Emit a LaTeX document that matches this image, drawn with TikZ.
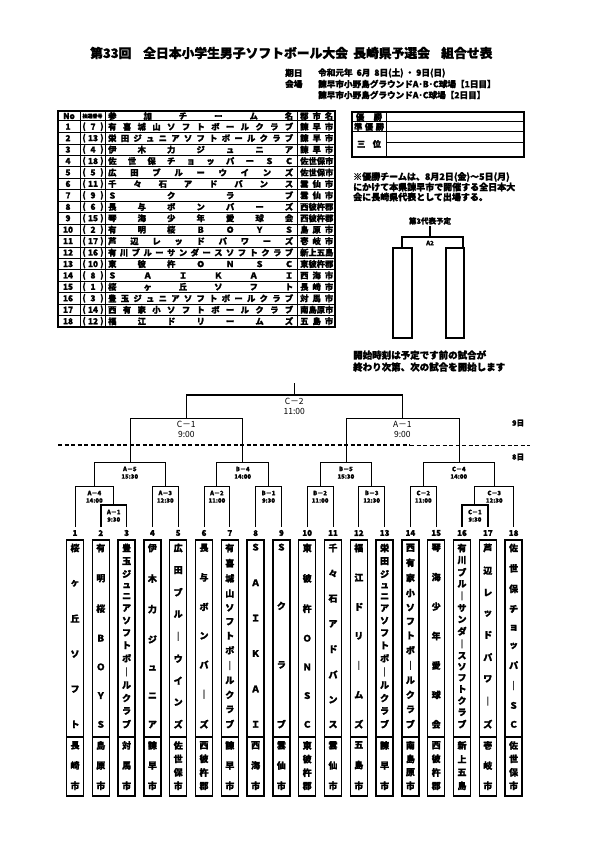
\documentclass[tikz,border=0pt]{standalone}
\usepackage{fontspec}
\setmainfont{Noto Sans CJK JP}[BoldFeatures={FakeBold=1.5}]
\def\hspA#1#2{#1\ifx\relax#2\else\hfill\expandafter\hspA\expandafter#2\fi}
\def\vspA#1#2{\hbox to 14pt{\hss#1\hss}\ifx\relax#2\else\vfill\expandafter\vspA\expandafter#2\fi}
\newcommand\hspread[2]{\hbox to #1{\expandafter\hspA#2\relax}}
\newcommand\vspread[2]{\vbox to #1{\offinterlineskip\expandafter\vspA#2\relax}}
\newcommand\bk[6][br]{\draw[#1] (#2,#5) -- (#2,#4) -- (#3,#4) -- (#3,#6);}
\newcommand\ml[4]{\node[lab] at (#1,#2+7) {#3}; \node[lab] at (#1,#2+14.5) {#4};}
\newcommand\mlb[4]{\node[labbig] at (#1,#2+6.5) {#3}; \node[labbig] at (#1,#2+16.5) {#4};}
\begin{document}
\begin{tikzpicture}[x=1pt,y=-1pt,
  br/.style={line width=1pt},
  brthin/.style={line width=0.6pt},
  brthick/.style={line width=1.5pt},
  lab/.style={font=\fontsize{6}{6}\selectfont\bfseries, inner sep=0},
  labbig/.style={font=\fontsize{8.5}{9}\selectfont, inner sep=0},
  tt/.style={font=\fontsize{8.3}{9}\selectfont\bfseries, inner sep=0},
  vt/.style={font=\fontsize{9}{9}\selectfont\bfseries, inner sep=0},
  info/.style={font=\fontsize{8.6}{9}\selectfont\bfseries, inner sep=0, anchor=west},
  note/.style={font=\fontsize{9}{10}\selectfont\bfseries, inner sep=0, anchor=west},
  ttl/.style={font=\fontsize{12.8}{13}\selectfont\bfseries, inner sep=0, anchor=west},
  numlab/.style={font=\fontsize{8}{8}\selectfont\bfseries, inner sep=0},
  namebox/.style={line width=1.4pt}]
\useasboundingbox (0,0) rectangle (595,842);
\fill[white] (0,0) rectangle (595,842);

% ---------- title ----------
\node[ttl] (t1) at (90,53) {第33回};
\node[ttl] (t2) at (143,53) {全日本小学生男子ソフトボール大会};
\node[ttl] (t3) at (353,53) {長崎県予選会};
\node[ttl] (t4) at (441,53) {組合せ表};
\node[info] (i1) at (285,73) {期日};
\node[info] (i2) at (318,73) {令和元年\ \ 6月\ \ 8日(土)\ ・\ 9日(日)};
\node[info] (i3) at (285,84) {会場};
\node[info] (i4) at (318,84) {諫早市小野島グラウンドA･B･C球場【1日目】};
\node[info] (i5) at (318,95) {諫早市小野島グラウンドA･C球場【2日目】};

% ---------- participant table ----------
\draw[line width=1.5pt] (58,111) rectangle (335,327);
\foreach \k in {1,...,17} \draw[line width=0.6pt] (58,{121+\k*11.44}) -- (335,{121+\k*11.44});
\draw[line width=1pt] (58,121) -- (335,121);
\foreach \vx in {80,105,297} \draw[line width=0.8pt] (\vx,111) -- (\vx,327);
\node[tt] (hno) at (69,116) {No};
\node[font=\fontsize{5}{5}\selectfont\bfseries, inner sep=0] (hch) at (92.5,116) {抽選番号};
\node[tt,anchor=west] (hnm) at (108,116) {\hspread{185pt}{参加チーム名}};
\node[tt,anchor=west] (hct) at (300,116) {\hspread{33pt}{郡市名}};
\foreach \k/\d/\nm/\ct in {
 1/7/有喜城山ソフトボールクラブ/諫早市,
 2/13/栄田ジュニアソフトボールクラブ/諫早市,
 3/4/伊木力ジュニア/諫早市,
 4/18/佐世保チョッパーＳＣ/佐世保市,
 5/5/広田ブルーウインズ/佐世保市,
 6/11/千々石アドバンス/雲仙市,
 7/9/Ｓクラブ/雲仙市,
 8/6/長与ボンバーズ/西彼杵郡,
 9/15/琴海少年愛球会/西彼杵郡,
 10/2/有明桜ＢＯＹＳ/島原市,
 11/17/芦辺レッドパワーズ/壱岐市,
 12/16/有川ブルーサンダースソフトクラブ/新上五島,
 13/10/東彼杵ＯＮＳＣ/東彼杵郡,
 14/8/ＳＡＩＫＡＩ/西海市,
 15/1/桜ヶ丘ソフト/長崎市,
 16/3/豊玉ジュニアソフトボールクラブ/対馬市,
 17/14/西有家小ソフトボールクラブ/南島原市,
 18/12/福江ドリームズ/五島市}{
 \pgfmathsetmacro\yy{121+(\k-0.5)*11.44}
 \node[tt] (rn\k) at (68,\yy) {\k};
 \node[tt] (rpa\k) at (84,\yy) {(};
 \node[tt] (rd\k) at (93,\yy) {\d};
 \node[tt] (rpb\k) at (102,\yy) {)};
 \node[tt,anchor=west] (rt\k) at (108,\yy) {\hspread{185pt}{\nm}};
 \node[tt,anchor=west] (rc\k) at (300,\yy) {\hspread{33pt}{\ct}};
}

% ---------- results box ----------
\draw[line width=1.5pt] (352,112) rectangle (524,157);
\draw[line width=1pt] (352,122) -- (524,122);
\draw[line width=1pt] (352,131.5) -- (524,131.5);
\draw[line width=1pt] (386,143) -- (524,143);
\draw[line width=1pt] (386,112) -- (386,157);
\node[tt] (w1) at (369,117) {\hspread{26pt}{優勝}};
\node[tt] (w2) at (369,126.8) {\hspread{30pt}{準優勝}};
\node[tt] (w3) at (369,144) {\hspread{24pt}{三位}};

% ---------- notes ----------
\node[note] (n1) at (353,177) {※優勝チームは、8月2日(金)～5日(月)};
\node[note] (n2) at (353,187) {にかけて本県諫早市で開催する全日本大};
\node[note] (n3) at (353,197) {会に長崎県代表として出場する。};

% ---------- third representative mini bracket ----------
\node[font=\fontsize{7.5}{8}\selectfont\bfseries, inner sep=0] (r3) at (430,221) {第3代表予定};
\draw[line width=1.2pt] (430,226) -- (430,237);
\draw[line width=1.2pt] (402,248) -- (402,237) -- (463,237) -- (463,248);
\node[lab] (a2) at (430,243) {A2};
\draw[line width=1.3pt] (393,248) rectangle (412,338);
\draw[line width=1.3pt] (446,248) rectangle (464,338);
\node[font=\fontsize{9.5}{10}\selectfont\bfseries, inner sep=0, anchor=west] (n4) at (353,355) {開始時刻は予定です前の試合が};
\node[font=\fontsize{9.5}{10}\selectfont\bfseries, inner sep=0, anchor=west] (n5) at (353,367) {終わり次第、次の試合を開始します};

% ---------- day separator ----------
\draw[line width=1.4pt, dash pattern=on 4pt off 2.5pt] (58,445) -- (410,445);
\draw[line width=0.8pt, dash pattern=on 4pt off 2.5pt] (410,445) -- (530,445);
\node[font=\fontsize{7.5}{8}\selectfont\bfseries, inner sep=0] (d9) at (518,423) {9日};
\node[font=\fontsize{7.5}{8}\selectfont\bfseries, inner sep=0] (d8) at (518,457) {8日};

% ---------- bracket ----------
\draw[brthick] (294.3,395) -- (294.3,383);
\bk[brthick]{186.3}{402.3}{395}{418}{418}
\mlb{294.3}{395}{C－2}{11:00}
\bk[brthin]{129.8}{242.7}{418}{462}{462}
\mlb{186.3}{418}{C－1}{9:00}
\bk[brthin]{345.9}{458.8}{418}{462}{462}
\mlb{402.3}{418}{A－1}{9:00}

\bk{94.35}{165.3}{462}{486}{486}   \ml{129.8}{462}{A－5}{15:30}
\bk{216.9}{268.5}{462}{486}{486}   \ml{242.7}{462}{B－4}{14:00}
\bk{320.1}{371.7}{462}{486}{486}   \ml{345.9}{462}{B－5}{15:30}
\bk{423.3}{494.25}{462}{486}{486}  \ml{458.8}{462}{C－4}{14:00}

\bk{75}{113.7}{486}{527}{505}      \ml{94.35}{486}{A－4}{14:00}
\bk{152.4}{178.2}{486}{527}{527}   \ml{165.3}{486}{A－3}{12:30}
\bk{204}{229.8}{486}{527}{527}     \ml{216.9}{486}{A－2}{11:00}
\bk{255.6}{281.4}{486}{527}{527}   \ml{268.5}{486}{B－1}{9:30}
\bk{307.2}{333}{486}{527}{527}     \ml{320.1}{486}{B－2}{11:00}
\bk{358.8}{384.6}{486}{527}{527}   \ml{371.7}{486}{B－3}{12:30}
\bk{410.4}{436.2}{486}{527}{527}   \ml{423.3}{486}{C－2}{11:00}
\bk{474.9}{513.6}{486}{505}{527}   \ml{494.25}{486}{C－3}{12:30}
\bk[brthick]{100.8}{126.6}{505}{527}{527} \ml{113.7}{505}{A－1}{9:30}
\bk[brthick]{462}{487.8}{505}{527}{527}   \ml{474.9}{505}{C－1}{9:30}

% ---------- team boxes ----------
\foreach \i/\nm/\ct in {
 1/桜ヶ丘ソフト/長崎市,
 2/有明桜ＢＯＹＳ/島原市,
 3/豊玉ジュニアソフトボ｜ルクラブ/対馬市,
 4/伊木力ジュニア/諫早市,
 5/広田ブル｜ウインズ/佐世保市,
 6/長与ボンバ｜ズ/西彼杵郡,
 7/有喜城山ソフトボ｜ルクラブ/諫早市,
 8/ＳＡＩＫＡＩ/西海市,
 9/Ｓクラブ/雲仙市,
 10/東彼杵ＯＮＳＣ/東彼杵郡,
 11/千々石アドバンス/雲仙市,
 12/福江ドリ｜ムズ/五島市,
 13/栄田ジュニアソフトボ｜ルクラブ/諫早市,
 14/西有家小ソフトボ｜ルクラブ/南島原市,
 15/琴海少年愛球会/西彼杵郡,
 16/有川ブル｜サンダ｜スソフトクラブ/新上五島,
 17/芦辺レッドパワ｜ズ/壱岐市,
 18/佐世保チョッパ｜ＳＣ/佐世保市}{
 \pgfmathsetmacro\xx{75+(\i-1)*25.8}
 \node[numlab] (no\i) at (\xx,533) {\i};
 \draw[namebox] (\xx-8.5,540) rectangle (\xx+8.5,737);
 \draw[namebox] (\xx-8.5,737) rectangle (\xx+8.5,796);
 \node[vt,anchor=north] (tn\i) at (\xx,543.5) {\vspread{184pt}{\nm}};
 \node[vt,anchor=north] (tc\i) at (\xx,741) {\vspread{48pt}{\ct}};
}
\end{tikzpicture}
\end{document}
